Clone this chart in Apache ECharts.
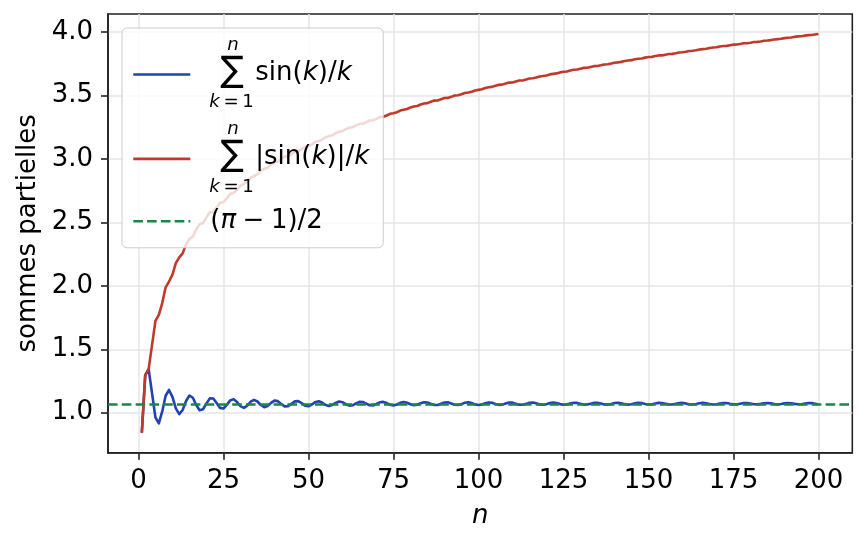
<!DOCTYPE html>
<html>
<head>
<meta charset="utf-8">
<script src="https://cdn.jsdelivr.net/npm/echarts@6/dist/echarts.min.js"></script>
<style>
  html, body { margin: 0; padding: 0; background: #fff; }
  #main { width: 867px; height: 545px; }
</style>
</head>
<body>
<div id="main"></div>
<script>
// sommes partielles pour n = 1 .. 200
const sinSum = [
  0.8415, 1.2961, 1.3432, 1.1540, 0.9622, 0.9156, 1.0095, 1.1331, 1.1789, 1.1245,
  1.0336, 0.9889, 1.0212, 1.0920, 1.1353, 1.1174, 1.0608, 1.0191, 1.0270, 1.0726,
  1.1125, 1.1121, 1.0753, 1.0375, 1.0323, 1.0616, 1.0970, 1.1067, 1.0838, 1.0509,
  1.0378, 1.0558, 1.0861, 1.1010, 1.0881, 1.0604, 1.0435, 1.0520, 1.0768, 1.0951,
  1.0907, 1.0686, 1.0496, 1.0504, 1.0696, 1.0890, 1.0912, 1.0750, 1.0556, 1.0507,
  1.0641, 1.0830, 1.0902, 1.0796, 1.0614, 1.0524, 1.0603, 1.0774, 1.0880, 1.0827,
  1.0668, 1.0550, 1.0579, 1.0724, 1.0850, 1.0844, 1.0715, 1.0584, 1.0569, 1.0681,
  1.0814, 1.0848, 1.0754, 1.0621, 1.0571, 1.0646, 1.0776, 1.0841, 1.0783, 1.0659,
  1.0582, 1.0622, 1.0739, 1.0825, 1.0803, 1.0695, 1.0601, 1.0607, 1.0704, 1.0803,
  1.0813, 1.0728, 1.0626, 1.0601, 1.0674, 1.0776, 1.0814, 1.0755, 1.0654, 1.0604,
  1.0650, 1.0747, 1.0807, 1.0776, 1.0683, 1.0615, 1.0633, 1.0719, 1.0794, 1.0789,
  1.0711, 1.0631, 1.0623, 1.0693, 1.0775, 1.0795, 1.0735, 1.0652, 1.0621, 1.0670,
  1.0753, 1.0793, 1.0755, 1.0675, 1.0626, 1.0653, 1.0729, 1.0785, 1.0770, 1.0698,
  1.0636, 1.0641, 1.0707, 1.0772, 1.0779, 1.0720, 1.0651, 1.0635, 1.0686, 1.0756,
  1.0781, 1.0739, 1.0670, 1.0636, 1.0669, 1.0737, 1.0778, 1.0755, 1.0689, 1.0642,
  1.0656, 1.0717, 1.0770, 1.0765, 1.0709, 1.0652, 1.0648, 1.0698, 1.0757, 1.0771,
  1.0727, 1.0666, 1.0645, 1.0681, 1.0742, 1.0771, 1.0742, 1.0683, 1.0647, 1.0668,
  1.0725, 1.0766, 1.0754, 1.0700, 1.0654, 1.0658, 1.0708, 1.0757, 1.0761, 1.0716,
  1.0665, 1.0653, 1.0692, 1.0745, 1.0764, 1.0731, 1.0678, 1.0653, 1.0678, 1.0731,
  1.0762, 1.0743, 1.0693, 1.0657, 1.0668, 1.0716, 1.0756, 1.0752, 1.0708, 1.0664
];
const absSinSum = [
  0.8415, 1.2961, 1.3432, 1.5324, 1.7241, 1.7707, 1.8646, 1.9882, 2.0340, 2.0884,
  2.1793, 2.2241, 2.2564, 2.3271, 2.3705, 2.3885, 2.4450, 2.4867, 2.4946, 2.5403,
  2.5801, 2.5805, 2.6173, 2.6550, 2.6603, 2.6897, 2.7251, 2.7348, 2.7576, 2.7906,
  2.8036, 2.8208, 2.8511, 2.8667, 2.8789, 2.9065, 2.9239, 2.9317, 2.9564, 2.9750,
  2.9789, 3.0007, 3.0200, 3.0204, 3.0393, 3.0589, 3.0616, 3.0776, 3.0970, 3.1023,
  3.1154, 3.1344, 3.1419, 3.1522, 3.1704, 3.1797, 3.1874, 3.2045, 3.2153, 3.2204,
  3.2362, 3.2481, 3.2508, 3.2652, 3.2779, 3.2783, 3.2911, 3.3043, 3.3059, 3.3170,
  3.3304, 3.3339, 3.3432, 3.3565, 3.3617, 3.3691, 3.3821, 3.3887, 3.3943, 3.4067,
  3.4145, 3.4183, 3.4300, 3.4387, 3.4408, 3.4515, 3.4610, 3.4614, 3.4710, 3.4810,
  3.4821, 3.4906, 3.5008, 3.5034, 3.5106, 3.5208, 3.5247, 3.5306, 3.5407, 3.5457,
  3.5502, 3.5600, 3.5660, 3.5691, 3.5783, 3.5852, 3.5869, 3.5955, 3.6030, 3.6034,
  3.6112, 3.6191, 3.6200, 3.6269, 3.6351, 3.6371, 3.6430, 3.6514, 3.6545, 3.6593,
  3.6676, 3.6717, 3.6754, 3.6834, 3.6884, 3.6910, 3.6986, 3.7043, 3.7058, 3.7129,
  3.7191, 3.7195, 3.7261, 3.7327, 3.7333, 3.7391, 3.7460, 3.7477, 3.7527, 3.7597,
  3.7623, 3.7664, 3.7734, 3.7768, 3.7800, 3.7869, 3.7910, 3.7933, 3.7998, 3.8046,
  3.8059, 3.8120, 3.8173, 3.8177, 3.8233, 3.8290, 3.8295, 3.8345, 3.8404, 3.8418,
  3.8462, 3.8522, 3.8544, 3.8580, 3.8641, 3.8670, 3.8698, 3.8758, 3.8793, 3.8814,
  3.8871, 3.8912, 3.8924, 3.8978, 3.9024, 3.9028, 3.9077, 3.9127, 3.9131, 3.9175,
  3.9227, 3.9238, 3.9277, 3.9330, 3.9349, 3.9381, 3.9434, 3.9460, 3.9485, 3.9538,
  3.9569, 3.9588, 3.9638, 3.9674, 3.9686, 3.9734, 3.9774, 3.9778, 3.9822, 3.9866
];
const limitValue = 1.0708; // (pi - 1) / 2
const xTicks = [0, 25, 50, 75, 100, 125, 150, 175, 200];
const yTicks = [1.0, 1.5, 2.0, 2.5, 3.0, 3.5, 4.0];

const BLUE = '#2142b3';
const RED = '#c0392b';
const GREEN = '#1e8449';
const AXIS = '#222222';
const FONT = 'DejaVu Sans';
const F = 26;      // taille du texte
const FS = 18.2;   // indices / exposants
const CLEAR = 'rgba(255,255,255,0)';

// libelles de la legende (texte riche)
const labels = {
  sin: '{sp1| }{sup|n}\n{sp2| }{sum|∑}{t|sin(}{i|k}{t|)/}{i|k}\n{sp3| }{subi|k}{sub|\u2009=\u20091}',
  abs: '{sp1| }{sup|n}\n{sp2| }{sum|∑}{t||sin(}{i|k}{t|)|/}{i|k}\n{sp3| }{subi|k}{sub|\u2009=\u20091}',
  lim: '{sp4| }{r|(}{ri|π}{r|\u2005−\u20051)/2}'
};

// les blocs transparents sp1 / sp3 / sp4 fixent la hauteur de chaque entree
const rich = {
  sp1: { width: 32, height: 16, lineHeight: 16, fontSize: FS, backgroundColor: CLEAR },
  sup: { fontSize: FS, fontStyle: 'italic', lineHeight: 16 },
  sp2: { width: 25, fontSize: F, lineHeight: 40 },
  sum: { width: 35, fontSize: 35, lineHeight: 40, padding: [0, 0, 2, 0] },
  t: { fontSize: F, lineHeight: 40 },
  i: { fontSize: F, fontStyle: 'italic', lineHeight: 40 },
  sp3: { width: 14, height: 19, lineHeight: 19, fontSize: FS, backgroundColor: CLEAR },
  subi: { fontSize: FS, fontStyle: 'italic', lineHeight: 19 },
  sub: { fontSize: FS, lineHeight: 19 },
  sp4: { width: 15, height: 33, lineHeight: 33, fontSize: F, backgroundColor: CLEAR },
  r: { fontSize: F, lineHeight: 33 },
  ri: { fontSize: F, fontStyle: 'italic', lineHeight: 33 }
};

const toPoints = arr => arr.map((v, i) => [i + 1, v]);

const myChart = echarts.init(document.getElementById('main'), null, { renderer: 'canvas' });
const option = {
  animation: false,
  backgroundColor: '#ffffff',
  textStyle: { fontFamily: FONT },
  grid: {
    left: 108, right: 14.7, top: 14, bottom: 92.3,
    show: true, borderColor: AXIS, borderWidth: 1.6,
    outerBoundsMode: 'none'
  },
  legend: {
    orient: 'vertical',
    left: 122, top: 28,
    padding: [8, 14, 10, 10],
    itemGap: 8.4,
    itemWidth: 57, itemHeight: 14,
    backgroundColor: 'rgba(255,255,255,0.8)',
    borderColor: '#cccccc', borderWidth: 1, borderRadius: 5,
    selectedMode: false,
    itemStyle: { opacity: 0 },
    lineStyle: { width: 2.6 },
    textStyle: { fontFamily: FONT, fontSize: F, color: '#000', rich: rich },
    formatter: name => labels[name],
    data: ['sin', 'abs', 'lim']
  },
  xAxis: {
    type: 'value',
    min: -8.95, max: 209.95,
    name: 'n', nameLocation: 'middle', nameGap: 51,
    nameTextStyle: { fontFamily: FONT, fontSize: F, fontStyle: 'italic', color: '#000' },
    axisLine: { show: true, onZero: false, lineStyle: { color: AXIS, width: 1.6 } },
    axisTick: { show: true, customValues: xTicks, length: 7, lineStyle: { color: AXIS, width: 1.6 } },
    axisLabel: { customValues: xTicks, fontFamily: FONT, fontSize: F, color: '#000', margin: 16 },
    splitLine: { show: true, lineStyle: { color: '#e6e6e6', width: 1.5 } }
  },
  yAxis: {
    type: 'value',
    min: 0.6842, max: 4.1439,
    name: 'sommes partielles', nameLocation: 'middle', nameGap: 60,
    nameTextStyle: { fontFamily: FONT, fontSize: F, color: '#000' },
    axisLine: { show: true, onZero: false, lineStyle: { color: AXIS, width: 1.6 } },
    axisTick: { show: true, customValues: yTicks, length: 7, lineStyle: { color: AXIS, width: 1.6 } },
    axisLabel: {
      customValues: yTicks, fontFamily: FONT, fontSize: F, color: '#000', margin: 15,
      formatter: v => v.toFixed(1)
    },
    splitLine: { show: true, lineStyle: { color: '#e6e6e6', width: 1.5 } }
  },
  series: [
    {
      name: 'sin', type: 'line', data: toPoints(sinSum),
      symbol: 'none', color: BLUE,
      lineStyle: { color: BLUE, width: 2.6, join: 'round' }
    },
    {
      name: 'abs', type: 'line', data: toPoints(absSinSum),
      symbol: 'none', color: RED,
      lineStyle: { color: RED, width: 2.6, join: 'round' }
    },
    {
      name: 'lim', type: 'line', data: [],
      symbol: 'none', color: GREEN,
      lineStyle: { color: GREEN, width: 2.6, type: [9.6, 4.2] },
      markLine: {
        silent: true, symbol: 'none', animation: false,
        label: { show: false },
        lineStyle: { color: GREEN, width: 2.6, type: [9.6, 4.2] },
        data: [{ yAxis: limitValue }]
      }
    }
  ]
};
myChart.setOption(option);
</script>
</body>
</html>
